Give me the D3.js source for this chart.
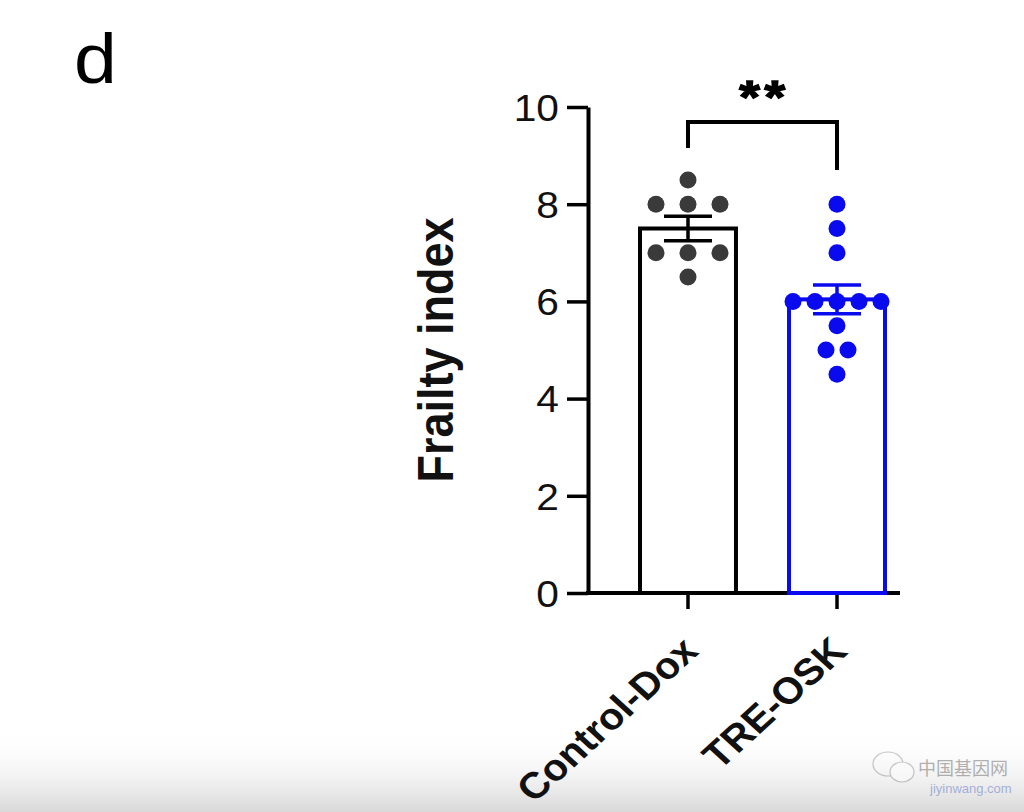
<!DOCTYPE html>
<html>
<head>
<meta charset="utf-8">
<script src="https://cdn.jsdelivr.net/npm/d3@7"></script>
<style>
  body { margin: 0; background: #fff; }
  text { font-family: "Liberation Sans", Arial, sans-serif; }
</style>
</head>
<body>
<svg id="chart"></svg>
<script>
const width = 1024;
const height = 812;

// Data
const groups = ["Control-Dox", "TRE-OSK"];
const controlValues = [8.5, 8, 8, 8, 7, 7, 7, 6.5];
const oskValues = [8, 7.5, 7, 6, 6, 6, 6, 6, 5.5, 5, 5, 4.5];
const yTicks = [0, 2, 4, 6, 8, 10];
const signif = "**";

const groupColor = { "Control-Dox": "#3a3a3a", "TRE-OSK": "#0a0aee" };
const barStroke = { "Control-Dox": "#000", "TRE-OSK": "#0a0aee" };
const dotSpacing = { "Control-Dox": 32, "TRE-OSK": 22 };
const stretch = 1.1; // the source picture is a bit wider than tall

const series = [
    { name: groups[0], values: controlValues },
    { name: groups[1], values: oskValues }
];
series.forEach(s => {
    s.mean = d3.mean(s.values);
    s.sem = d3.deviation(s.values) / Math.sqrt(s.values.length);
});

const svg = d3.select("#chart").attr("width", width).attr("height", height);

// bottom photo shading
const defs = svg.append("defs");
const grad = defs.append("linearGradient").attr("id", "shade")
    .attr("x1", 0).attr("y1", 0).attr("x2", 0).attr("y2", 1);
grad.append("stop").attr("offset", "0%").attr("stop-color", "#fff").attr("stop-opacity", 0);
grad.append("stop").attr("offset", "100%").attr("stop-color", "#d8d8d8").attr("stop-opacity", 1);
svg.append("rect").attr("x", 0).attr("y", 730).attr("width", width).attr("height", 82)
    .attr("fill", "url(#shade)");

const y = d3.scaleLinear().domain([0, 10]).range([593, 107]);
const x = d3.scaleBand().domain(groups).range([588, 937])
    .paddingInner(0.356).paddingOuter(0.349);

// panel letter
svg.append("text")
    .attr("transform", `translate(74,83) scale(${stretch},1)`)
    .style("font-size", "70px")
    .text("d");

// y axis
const yAxis = svg.append("g")
    .attr("transform", "translate(588,0)")
    .call(d3.axisLeft(y).tickValues(yTicks).tickSize(21).tickPadding(6).tickSizeOuter(0));
yAxis.select(".domain").attr("stroke", "#000").attr("stroke-width", 4);
yAxis.selectAll(".tick line").attr("stroke", "#000").attr("stroke-width", 3.5);
yAxis.selectAll(".tick text")
    .attr("x", 0)
    .attr("transform", `translate(-29,0) scale(${stretch},1)`)
    .style("font-size", "37px")
    .attr("fill", "#111")
    .attr("dy", "0.36em");

svg.append("text")
    .attr("transform", `translate(453,350) scale(${stretch},1) rotate(-90)`)
    .attr("text-anchor", "middle")
    .style("font-size", "45px")
    .style("font-weight", "bold")
    .attr("fill", "#111")
    .text("Frailty index");

// x axis
const xAxis = svg.append("g")
    .attr("transform", "translate(0,593)")
    .call(d3.axisBottom(x).tickSize(16).tickSizeOuter(0));
xAxis.select(".domain").remove();
xAxis.selectAll(".tick line").attr("stroke", "#000").attr("stroke-width", 3.5);
xAxis.selectAll(".tick text")
    .attr("text-anchor", "end")
    .attr("x", 0).attr("y", 0).attr("dy", 0)
    .attr("transform", `translate(12,60) scale(${stretch},1) rotate(-45)`)
    .style("font-size", "37px")
    .style("font-weight", "bold")
    .attr("fill", "#111");
svg.append("line")
    .attr("x1", 586).attr("x2", 900)
    .attr("y1", 593).attr("y2", 593)
    .attr("stroke", "#000").attr("stroke-width", 4);

// bars
svg.append("g").selectAll("rect")
    .data(series)
    .join("rect")
    .attr("x", d => x(d.name))
    .attr("y", d => y(d.mean))
    .attr("width", x.bandwidth())
    .attr("height", d => y(0) - y(d.mean))
    .attr("fill", "#fff")
    .attr("stroke", d => barStroke[d.name])
    .attr("stroke-width", 4);

// error bars (SEM)
const capHalf = 24;
const err = svg.append("g").selectAll("g")
    .data(series)
    .join("g")
    .attr("stroke", d => barStroke[d.name])
    .attr("stroke-width", 3.5);
err.append("line")
    .attr("x1", d => x(d.name) + x.bandwidth() / 2)
    .attr("x2", d => x(d.name) + x.bandwidth() / 2)
    .attr("y1", d => y(d.mean - d.sem))
    .attr("y2", d => y(d.mean + d.sem));
err.append("line")
    .attr("x1", d => x(d.name) + x.bandwidth() / 2 - capHalf)
    .attr("x2", d => x(d.name) + x.bandwidth() / 2 + capHalf)
    .attr("y1", d => y(d.mean + d.sem))
    .attr("y2", d => y(d.mean + d.sem));
err.append("line")
    .attr("x1", d => x(d.name) + x.bandwidth() / 2 - capHalf)
    .attr("x2", d => x(d.name) + x.bandwidth() / 2 + capHalf)
    .attr("y1", d => y(d.mean - d.sem))
    .attr("y2", d => y(d.mean - d.sem));

// dots: equal values spread side by side
series.forEach(s => {
    const cx = x(s.name) + x.bandwidth() / 2;
    const byValue = d3.group(s.values, v => v);
    const pts = [];
    byValue.forEach((vals, v) => {
        vals.forEach((_, k) => {
            pts.push({ v: v, dx: (k - (vals.length - 1) / 2) * dotSpacing[s.name] });
        });
    });
    svg.append("g").selectAll("circle")
        .data(pts)
        .join("circle")
        .attr("cx", d => cx + d.dx)
        .attr("cy", d => y(d.v))
        .attr("r", 8.5)
        .attr("fill", groupColor[s.name]);
});

// significance bracket
const bx1 = x(groups[0]) + x.bandwidth() / 2;
const bx2 = x(groups[1]) + x.bandwidth() / 2;
const by = 122;
svg.append("path")
    .attr("d", `M${bx1},148 V${by} H${bx2} V170`)
    .attr("fill", "none")
    .attr("stroke", "#000")
    .attr("stroke-width", 4);
svg.append("text")
    .attr("transform", `translate(${(bx1 + bx2) / 2 + 2},113) scale(1.15,1)`)
    .attr("text-anchor", "middle")
    .style("font-size", "46px")
    .style("font-weight", "bold")
    .style("letter-spacing", "4px")
    .attr("stroke", "#000")
    .attr("stroke-width", 1.5)
    .text(signif);

// watermark
const wm = svg.append("g").attr("opacity", 0.4);
wm.append("ellipse").attr("cx", 888).attr("cy", 764).attr("rx", 15).attr("ry", 12)
    .attr("fill", "none").attr("stroke", "#777").attr("stroke-width", 1.2);
wm.append("ellipse").attr("cx", 902).attr("cy", 772).attr("rx", 12).attr("ry", 10)
    .attr("fill", "#fff").attr("stroke", "#777").attr("stroke-width", 1.2);
wm.append("text")
    .attr("x", 918).attr("y", 775)
    .style("font-family", "Noto Sans CJK SC")
    .style("font-size", "18px")
    .attr("fill", "#444")
    .text("中国基因网");
wm.append("text")
    .attr("x", 930).attr("y", 793)
    .style("font-size", "13px")
    .attr("fill", "#3355bb")
    .text("jiyinwang.com");
</script>
</body>
</html>
